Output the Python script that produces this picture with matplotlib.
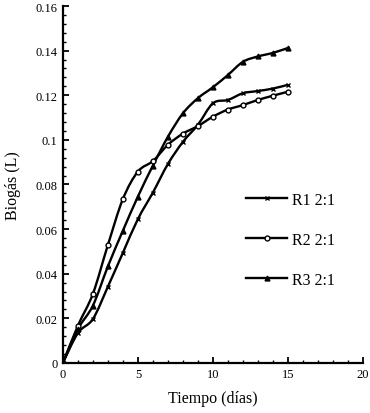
import numpy as np
import matplotlib
matplotlib.use("Agg")
import matplotlib.pyplot as plt
from matplotlib.path import Path
from matplotlib.patches import PathPatch
from matplotlib.ticker import MultipleLocator, FuncFormatter
from matplotlib.lines import Line2D

days = [0, 1, 2, 3, 4, 5, 6, 7, 8, 9, 10, 11, 12, 13, 14, 15]
r1 = [0, 0.0134, 0.0197, 0.0342, 0.0494, 0.0645, 0.0764, 0.0892, 0.0991, 0.1068,
      0.1164, 0.1179, 0.1209, 0.1219, 0.1230, 0.1247]
r2 = [0, 0.0167, 0.0310, 0.0529, 0.0735, 0.0858, 0.0905, 0.0978, 0.1028, 0.1062,
      0.1104, 0.1136, 0.1156, 0.1179, 0.1198, 0.1216]
r3 = [0, 0.0152, 0.0257, 0.0433, 0.0593, 0.0746, 0.0885, 0.1014, 0.1119, 0.1187,
      0.1236, 0.1291, 0.1350, 0.1374, 0.1390, 0.1412]
labels = ["R1 2:1", "R2 2:1", "R3 2:1"]

plt.rcParams['font.family'] = ['Liberation Serif', 'DejaVu Serif']

fig = plt.figure(figsize=(3.70, 4.14), dpi=100)
ax = fig.add_axes([0.170, 0.121, 0.811, 0.862])


def smooth_path(x, y, t=0.5):
    x = np.asarray(x, float)
    y = np.asarray(y, float)
    n = len(x)
    verts = [(x[0], y[0])]
    codes = [Path.MOVETO]
    for i in range(n - 1):
        p0 = np.array([x[max(i - 1, 0)], y[max(i - 1, 0)]])
        p1 = np.array([x[i], y[i]])
        p2 = np.array([x[i + 1], y[i + 1]])
        p3 = np.array([x[min(i + 2, n - 1)], y[min(i + 2, n - 1)]])
        c1 = p1 + (p2 - p0) * t / 3.0
        c2 = p2 - (p3 - p1) * t / 3.0
        verts += [tuple(c1), tuple(c2), tuple(p2)]
        codes += [Path.CURVE4] * 3
    return Path(verts, codes)


series = [(r1, 'x', 'black', 3.5), (r2, 'o', 'white', 3.5), (r3, '^', 'black', 3.5)]
handles = []
for (vals, mk, fc, ms), lab in zip(series, labels):
    patch = PathPatch(smooth_path(days, vals), facecolor='none', edgecolor='black',
                      lw=1.7, zorder=2)
    ax.add_patch(patch)
    ax.plot(days, vals, linestyle='none', marker=mk, markersize=ms,
            markerfacecolor=fc, markeredgecolor='black', markeredgewidth=1.0, zorder=3)
    handles.append(Line2D([], [], color='black', lw=1.7, marker=mk, markersize=ms,
                          markerfacecolor=fc, markeredgecolor='black', markeredgewidth=1.0))

ax.set_xlim(0, 20)
ax.set_ylim(0, 0.16)
ax.xaxis.set_major_locator(MultipleLocator(5))
ax.xaxis.set_minor_locator(MultipleLocator(1))
ax.yaxis.set_major_locator(MultipleLocator(0.02))
ax.yaxis.set_minor_locator(MultipleLocator(0.004))
ax.yaxis.set_major_formatter(FuncFormatter(lambda v, p: '%g' % round(v, 4)))

for s in ['top', 'right']:
    ax.spines[s].set_visible(False)
for s in ['left', 'bottom']:
    ax.spines[s].set_linewidth(1.6)

ax.tick_params(which='major', direction='in', length=4, width=1.3, labelsize=9, pad=4)
ax.tick_params(which='minor', direction='in', length=2.5, width=1.0)

ax.set_xlabel('Tiempo (días)', fontsize=11.5, labelpad=7)
ax.set_ylabel('Biogás (L)', fontsize=11.5, labelpad=10)

ax.legend(handles, labels, loc='center left', bbox_to_anchor=(0.61, 0.345),
          frameon=False, fontsize=11.5, handlelength=2.6, handletextpad=0.3,
          labelspacing=1.5, borderpad=0, borderaxespad=0)

fig.savefig('out.png', dpi=100)
